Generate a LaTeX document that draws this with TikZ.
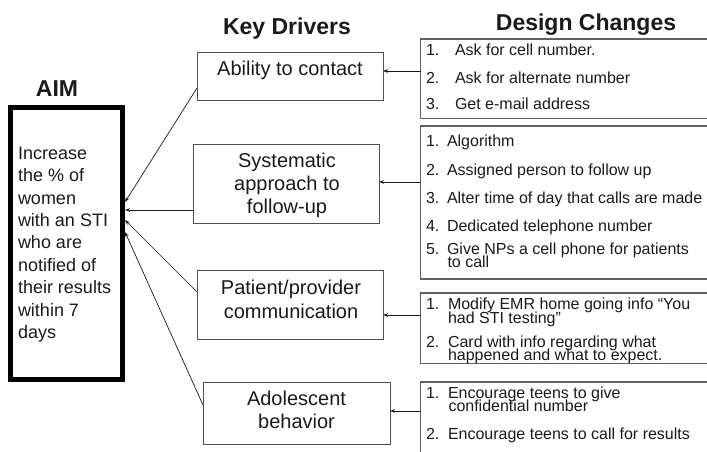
\documentclass[tikz,border=0pt]{standalone}
\usepackage{fontspec}
\setmainfont{Liberation Sans}
\usetikzlibrary{arrows.meta}
\definecolor{ink}{HTML}{1A1A1A}
\definecolor{boxline}{HTML}{505050}
\definecolor{dcline}{HTML}{606060}
\begin{document}
\begin{tikzpicture}[x=1pt,y=-1pt,
  every node/.style={inner sep=0pt, outer sep=0pt, text=ink},
  titletxt/.style={font=\fontsize{23}{27}\selectfont\bfseries, anchor=base},
  aimbox/.style={draw=black, line width=5pt, outer sep=2.5pt, minimum width=112pt, minimum height=272pt},
  aimtxt/.style={font=\fontsize{18}{22}\selectfont, anchor=base west},
  drvbox/.style={draw=boxline, line width=0.9pt},
  drvtxt/.style={font=\fontsize{20}{23}\selectfont, anchor=base},
  dcbox/.style={draw=dcline, line width=1.2pt, minimum width=300pt},
  dctxt/.style={font=\fontsize{16}{19}\selectfont, anchor=base west},
  conn/.style={draw=ink, line width=0.7pt, -{Stealth[length=5pt,width=3.6pt]}}
]
\useasboundingbox (0,0) rectangle (707,452);
\clip (0,0) rectangle (707,452);

% titles
\node[titletxt] (tAim) at (57,96.7) {AIM};
\node[titletxt] (tKey) at (287,34.3) {Key Drivers};
\node[titletxt] (tDes) at (586,30.7) {Design Changes};

% aim
\node[aimbox] (aim) at (66.5,243.5) {};
\foreach \t [count=\i] in {Increase,the \% of,women,with an STI,who are,notified of,their results,within 7,days}
  \node[aimtxt] (aim\i) at (18,{159.3+22.4*(\i-1)}) {\t};

% drivers
\node[drvbox, minimum width=186pt, minimum height=48pt] (d1) at (290,76) {};
\node[drvtxt] (d1a) at (290,76) {Ability to contact};

\node[drvbox, minimum width=186pt, minimum height=79pt] (d2) at (286,183.5) {};
\node[drvtxt] (d2a) at (287,167.7) {Systematic};
\node[drvtxt] (d2b) at (287,190.5) {approach to};
\node[drvtxt] (d2c) at (287,213.3) {follow-up};

\node[drvbox, minimum width=186pt, minimum height=69pt] (d3) at (290,304.5) {};
\node[drvtxt] (d3a) at (291,294) {Patient/provider};
\node[drvtxt] (d3b) at (291,318.3) {communication};

\node[drvbox, minimum width=187pt, minimum height=62pt] (d4) at (296.5,413) {};
\node[drvtxt] (d4a) at (296.5,405) {Adolescent};
\node[drvtxt] (d4b) at (296.5,428.3) {behavior};

% design changes
\node[dcbox, minimum height=79.5pt] (c1) at (570.5,78.75) {};
\node[dctxt] (c1n1) at (426,56) {1.};
\node[dctxt] (c1t1) at (455,56) {Ask for cell number.};
\node[dctxt] (c1n2) at (426,83.3) {2.};
\node[dctxt] (c1t2) at (455,83.3) {Ask for alternate number};
\node[dctxt] (c1n3) at (426,109.3) {3.};
\node[dctxt] (c1t3) at (455,109.3) {Get e-mail address};

\node[dcbox, minimum height=153pt] (c2) at (570.5,202.5) {};
\node[dctxt] (c2n1) at (426,146.7) {1.};
\node[dctxt] (c2t1) at (447,146.7) {Algorithm};
\node[dctxt] (c2n2) at (426,175) {2.};
\node[dctxt] (c2t2) at (447,175) {Assigned person to follow up};
\node[dctxt] (c2n3) at (426,203) {3.};
\node[dctxt] (c2t3) at (447,203) {Alter time of day that calls are made};
\node[dctxt] (c2n4) at (426,231.7) {4.};
\node[dctxt] (c2t4) at (447,231.7) {Dedicated telephone number};
\node[dctxt] (c2n5) at (426,254.3) {5.};
\node[dctxt] (c2t5) at (447,254.3) {Give NPs a cell phone for patients};
\node[dctxt] (c2t6) at (447.5,267.7) {to call};

\node[dcbox, minimum height=70.5pt] (c3) at (570.5,328.25) {};
\node[dctxt] (c3n1) at (426,309.7) {1.};
\node[dctxt] (c3t1) at (448,309.7) {Modify EMR home going info “You};
\node[dctxt] (c3t2) at (448,323) {had STI testing”};
\node[dctxt] (c3n2) at (426,347.3) {2.};
\node[dctxt] (c3t3) at (448,347.3) {Card with info regarding what};
\node[dctxt] (c3t4) at (448,360) {happened and what to expect.};

\node[dcbox, minimum height=88pt] (c4) at (570.5,426) {};
\node[dctxt] (c4n1) at (426,398.7) {1.};
\node[dctxt] (c4t1) at (448,398.7) {Encourage teens to give};
\node[dctxt] (c4t2) at (448.5,411.5) {confidential number};
\node[dctxt] (c4n2) at (426,439.7) {2.};
\node[dctxt] (c4t3) at (448,439.7) {Encourage teens to call for results};

% connectors design -> drivers
\draw[conn] ([yshift=7.75pt]c1.west) -- ([yshift=7.75pt]c1.west -| d1.east);
\draw[conn] ([yshift=20.5pt]c2.west) -- ([yshift=20.5pt]c2.west -| d2.east);
\draw[conn] ([yshift=13.25pt]c3.west) -- ([yshift=13.25pt]c3.west -| d3.east);
\draw[conn] ([yshift=15pt]c4.west) -- ([yshift=15pt]c4.west -| d4.east);

% connectors drivers -> aim
\draw[conn] ([yshift=12pt]d1.south west) -- ([yshift=41.5pt]aim.east);
\draw[conn] ([yshift=13pt]d2.south west) -- ([yshift=33.5pt]aim.east);
\draw[conn] ([yshift=47pt]d3.south west) -- ([yshift=23.5pt]aim.east);
\draw[conn] ([yshift=39pt]d4.south west) -- ([yshift=11.5pt]aim.east);
\end{tikzpicture}
\end{document}
